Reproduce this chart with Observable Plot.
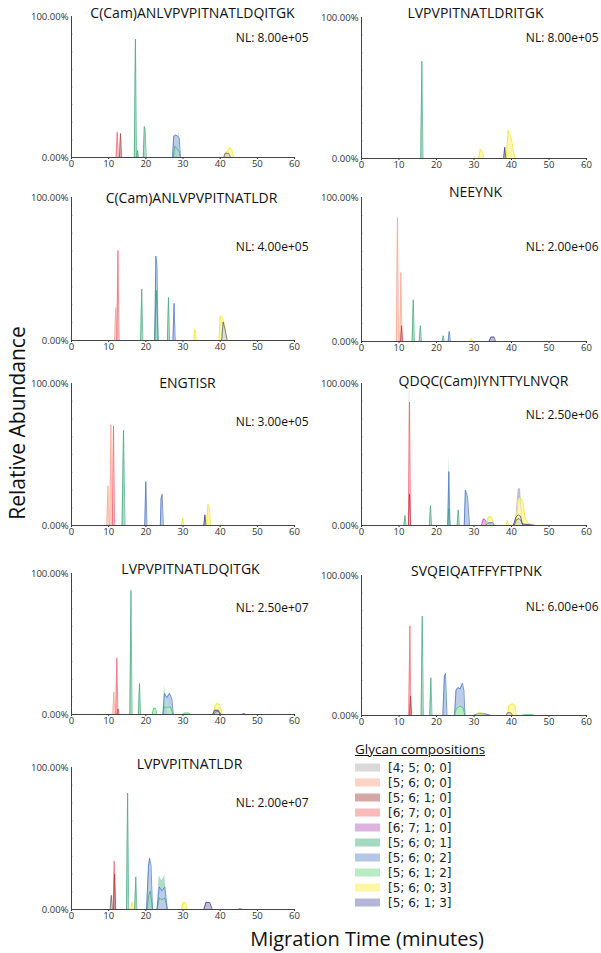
<!DOCTYPE html>
<html><head><meta charset="utf-8">
<script src="https://cdn.jsdelivr.net/npm/d3@7"></script>
<script src="https://cdn.jsdelivr.net/npm/@observablehq/plot@0.6"></script>
<style>
body{margin:0;background:#fff;}
#root{position:relative;width:601px;height:953px;overflow:hidden;font-family:"Open Sans",sans-serif;color:#111;}
.panel{position:absolute;}
.ylab{position:absolute;left:17px;top:423px;transform:translate(-50%,-50%) rotate(-90deg);font-size:21px;white-space:nowrap;}
.xlab{position:absolute;left:367px;top:938px;transform:translate(-50%,-50%);font-size:20px;white-space:nowrap;}
.legtitle{position:absolute;left:355px;top:749px;transform:translateY(-50%);font-size:13.5px;text-decoration:underline;white-space:nowrap;}
.legrow{position:absolute;left:355px;height:15px;display:flex;align-items:center;transform:translateY(-50%);white-space:nowrap;}
.sw{width:25px;height:8px;margin-right:8px;}
.lt{font-family:"DejaVu Sans",sans-serif;font-size:12px;color:#222;}
</style></head><body><div id="root"></div>
<script>
// ---------- data ----------
const glycans = ["[4; 5; 0; 0]","[5; 6; 0; 0]","[5; 6; 1; 0]","[6; 7; 0; 0]","[6; 7; 1; 0]",
                 "[5; 6; 0; 1]","[5; 6; 0; 2]","[5; 6; 1; 2]","[5; 6; 0; 3]","[5; 6; 1; 3]"];
const swatchColors = ["#d9d9d9","#fcd3c4","#d6a7a7","#fdbaba","#ddb4dd","#a5d9c1","#b5c7e7","#b8ecc3","#fdf6a3","#b5b5d7"];
const traceColors  = ["#4a4a4a","#f29a85","#b02c2c","#ef4f68","#c230b4","#2e9e6e","#2f5fb8","#25bf45","#f0e000","#1c1c78"];
const panelTitles = ["C(Cam)ANLVPVPITNATLDQITGK","LVPVPITNATLDRITGK","C(Cam)ANLVPVPITNATLDR","NEEYNK",
                     "ENGTISR","QDQC(Cam)IYNTTYLNVQR","LVPVPITNATLDQITGK","SVQEIQATFFYFTPNK","LVPVPITNATLDR"];
const nlLabels = ["NL: 8.00e+05","NL: 8.00e+05","NL: 4.00e+05","NL: 2.00e+06","NL: 3.00e+05",
                  "NL: 2.50e+06","NL: 2.50e+07","NL: 6.00e+06","NL: 2.00e+07"];
const xTicks = [0,10,20,30,40,50,60];
const yTicks = [0,100];
const yMinorTicks = [12.5,25,37.5,50,62.5,75,87.5];

// peaks: [glycan index, [time, abundance, time, abundance, ...]]
const peaks1 = [
  [3,[12.0,0, 12.3,18, 12.6,0]],
  [2,[12.9,0, 13.2,17, 13.5,0]],
  [5,[16.9,0, 17.2,84, 17.5,0]],
  [5,[17.6,0, 17.8,5, 18.0,0]],
  [5,[19.3,0, 19.6,22, 19.8,20, 20.1,0]],
  [6,[27.2,0, 27.5,15, 28.0,16, 28.6,15, 29.0,14, 29.3,0]],
  [5,[27.4,0, 27.8,8, 28.5,6, 29.0,4, 29.3,0]],
  [8,[41.2,0, 41.8,4, 42.5,7, 43.1,6, 43.6,0]],
  [0,[41.0,0, 41.3,3, 42.3,3, 42.8,0]]
];
const peaks2 = [
  [5,[15.8,0, 16.1,69, 16.4,0]],
  [8,[31.2,0, 31.7,6.5, 32.3,5, 32.7,0]],
  [9,[37.9,0, 38.2,8, 38.5,0]],
  [8,[38.6,0, 39.1,20, 39.5,17, 40.0,14, 40.5,5, 41.0,0]]
];
const peaks3 = [
  [1,[11.6,0, 11.9,23, 12.2,0]],
  [3,[12.2,0, 12.5,63, 12.8,0]],
  [5,[18.6,0, 18.9,36, 19.2,0]],
  [6,[22.4,0, 22.7,59, 23.0,52, 23.3,0]],
  [5,[22.4,0, 22.8,35, 23.3,0]],
  [5,[25.8,0, 26.1,30, 26.4,0]],
  [6,[27.3,0, 27.6,26, 27.9,0]],
  [8,[32.9,0, 33.2,8, 33.6,0]],
  [8,[39.7,0, 40.0,17, 40.6,16, 41.2,10, 41.8,0]],
  [0,[40.4,0, 40.8,13, 41.3,8, 41.9,0]]
];
const peaks4 = [
  [1,[9.3,0, 9.6,86, 9.9,0]],
  [1,[10.2,0, 10.5,48, 10.8,0]],
  [2,[10.4,0, 10.7,11, 11.0,0]],
  [5,[13.5,0, 13.8,29, 14.1,0]],
  [5,[15.4,0, 15.7,11, 16.0,0]],
  [5,[21.5,0, 21.8,4, 22.1,0]],
  [6,[23.1,0, 23.4,7, 23.7,0]],
  [8,[28.8,0, 29.3,2, 29.8,0]],
  [9,[34.0,0, 34.5,3, 35.3,3.2, 35.8,0]]
];
const peaks5 = [
  [1,[9.5,0, 9.8,28, 10.1,0]],
  [1,[10.3,0, 10.6,71, 10.9,0]],
  [3,[11.0,0, 11.3,70, 11.6,0]],
  [5,[13.6,0, 14.0,67, 14.4,0]],
  [6,[19.7,0, 20.0,31, 20.3,0]],
  [6,[23.9,0, 24.1,19, 24.4,22, 24.7,0]],
  [8,[29.5,0, 29.9,5, 30.3,0]],
  [9,[35.6,0, 35.9,7.5, 36.2,0]],
  [8,[36.3,0, 36.7,15, 37.1,13, 37.4,0]]
];
const peaks6 = [
  [5,[11.3,0, 11.6,7, 11.9,0]],
  [3,[12.5,0, 12.8,87, 13.1,0]],
  [2,[12.5,0, 12.8,22, 13.1,0]],
  [5,[18.1,0, 18.4,14, 18.7,0]],
  [6,[23.0,0, 23.3,38, 23.6,0]],
  [5,[23.0,0, 23.3,12, 23.6,0]],
  [5,[25.5,0, 25.8,11, 26.1,0]],
  [6,[27.4,0, 27.7,25, 28.3,20, 28.8,0]],
  [4,[32.0,0, 32.5,4.7, 33.0,4, 33.4,0]],
  [8,[33.3,0, 33.8,6, 34.7,6, 35.4,0]],
  [6,[33.0,0, 34.0,2, 35.0,2, 35.5,0]],
  [8,[38.6,0, 38.9,3.5, 39.2,0]],
  [8,[41.2,0, 41.8,18, 42.4,19.5, 43.0,17, 43.6,6, 44.2,2, 46.0,0]],
  [9,[40.5,0, 41.2,6, 41.8,7.5, 42.4,6.5, 42.9,1, 45.0,0.5, 46.5,0]],
  [0,[40.7,0, 41.3,4, 42.0,5, 42.6,3, 43.0,0]]
];
const peaks7 = [
  [1,[11.1,0, 11.4,16, 11.7,0]],
  [3,[11.9,0, 12.2,40, 12.5,0]],
  [2,[12.2,0, 12.5,4, 12.8,0]],
  [5,[15.7,0, 16.0,88, 16.3,0]],
  [5,[18.0,0, 18.3,22, 18.6,0]],
  [7,[21.7,0, 22.1,4.5, 22.6,4.5, 23.0,0]],
  [6,[24.6,0, 25.0,15, 25.6,12, 26.4,15, 27.0,11, 27.4,0]],
  [7,[24.6,0, 25.0,5.5, 26.0,5, 26.6,5.5, 27.3,0]],
  [7,[29.8,0, 30.5,1, 31.5,1, 32.0,0]],
  [8,[38.0,0, 38.6,6, 39.2,8, 39.9,7, 40.6,0]],
  [9,[38.0,0, 38.5,3, 39.5,3, 40.2,0]],
  [0,[38.3,0, 38.8,2, 39.6,2, 40.0,0]],
  [9,[45.8,0, 46.3,0.6, 47.0,0]]
];
const peaks8 = [
  [3,[12.6,0, 12.9,64, 13.2,0]],
  [2,[12.8,0, 13.1,14, 13.4,0]],
  [5,[15.9,0, 16.2,71, 16.5,0]],
  [5,[18.2,0, 18.5,27, 18.8,0]],
  [6,[21.7,0, 22.1,28, 22.4,30, 22.8,0]],
  [6,[24.8,0, 25.2,18, 25.7,20, 26.3,19, 26.9,23, 27.3,18, 27.6,0]],
  [7,[24.8,0, 25.3,5, 26.2,6.6, 27.0,6, 27.6,0]],
  [6,[29.8,0, 31.0,1.2, 33.0,1.2, 34.6,0]],
  [8,[30.5,0, 31.2,2, 32.2,2, 32.8,0]],
  [8,[38.9,0, 39.3,7, 40.2,8.4, 40.9,7.5, 41.3,0]],
  [0,[38.5,0, 39.0,2, 39.8,2, 40.3,0]],
  [7,[42.7,0, 43.5,0.6, 45.5,0.6, 46.2,0]]
];
const peaks9 = [
  [0,[10.4,0, 10.7,10, 11.0,0]],
  [3,[11.2,0, 11.5,34, 11.8,0]],
  [2,[11.3,0, 11.6,25, 11.9,0]],
  [5,[14.8,0, 15.1,82, 15.4,0]],
  [8,[15.9,0, 16.3,5, 16.7,0]],
  [5,[17.0,0, 17.3,23, 17.6,0]],
  [6,[20.2,0, 20.7,30, 21.0,36, 21.4,31, 21.8,0]],
  [5,[20.3,0, 20.8,10, 21.2,13, 21.8,0]],
  [6,[23.0,0, 23.6,16, 24.3,13, 25.1,16, 25.8,0]],
  [5,[23.0,0, 23.6,8, 24.3,7, 25.1,8, 25.8,0]],
  [8,[29.6,0, 30.0,5, 30.7,5, 31.1,0]],
  [9,[35.6,0, 36.2,5, 37.2,5, 37.9,0]],
  [9,[44.8,0, 45.3,0.4, 46.2,0]]
];
const panelPeaks = [peaks1,peaks2,peaks3,peaks4,peaks5,peaks6,peaks7,peaks8,peaks9];

// ---------- layout ----------
const layout = [
  {col:0, y100:16,  y0:157, tdx:9.5, tdy:-8,  ndy:17},
  {col:1, y100:17,  y0:158, tdx:1.5, tdy:-9,  ndy:16},
  {col:0, y100:197, y0:340, tdx:8.5, tdy:-4,  ndy:45},
  {col:1, y100:197, y0:341, tdx:1.5, tdy:-10, ndy:45},
  {col:0, y100:383, y0:525, tdx:4.5, tdy:-5,  ndy:34},
  {col:1, y100:383, y0:525, tdx:9.5, tdy:-7,  ndy:27},
  {col:0, y100:573, y0:714, tdx:7.5, tdy:-9,  ndy:30},
  {col:1, y100:575, y0:715, tdx:2.5, tdy:-9,  ndy:27},
  {col:0, y100:767, y0:909, tdx:6.5, tdy:-8,  ndy:31}
];
const root = document.getElementById("root");
const MT = 24, MB = 20;

panelPeaks.forEach((pk, i) => {
  const L = layout[i];
  const rows = [];
  pk.forEach(([g, pts], k) => {
    for (let j = 0; j < pts.length; j += 2) rows.push({id: k, g, t: pts[j], v: pts[j + 1]});
  });
  const left = L.col === 0 ? 0 : 290;
  const width = L.col === 0 ? 310 : 311;
  const marginRight = L.col === 0 ? 16 : 15;
  const chart = Plot.plot({
    width, height: MT + (L.y0 - L.y100) + MB,
    marginLeft: 71, marginRight, marginTop: MT, marginBottom: MB,
    style: {background: "transparent", overflow: "visible", fontFamily: "'Open Sans', sans-serif", fontSize: "9.5px", color: "#333"},
    x: {domain: [0, 60], ticks: xTicks, tickSize: 2, tickPadding: 1, label: null},
    y: {domain: [0, 100], ticks: yTicks, tickSize: 0, tickPadding: 3, tickFormat: d => d.toFixed(2) + "%", label: null},
    color: {type: "identity"},
    marks: [
      Plot.areaY(rows, {x: "t", y: "v", z: "id", fill: d => swatchColors[d.g], fillOpacity: 0.9}),
      Plot.lineY(rows, {x: "t", y: "v", z: "id", stroke: d => traceColors[d.g], strokeWidth: 0.7, strokeOpacity: 0.9}),
      Plot.ruleY(yMinorTicks, {x1: 0, x2: 0.35, stroke: "#777", strokeWidth: 1}),
      Plot.ruleX([0], {y1: 0, y2: 100, stroke: "#444", strokeWidth: 1}),
      Plot.ruleY([0], {stroke: "#444", strokeWidth: 1}),
      Plot.text([panelTitles[i]], {text: d => d, frameAnchor: "top", dx: L.tdx, dy: L.tdy, fontSize: 14, fill: "#111"}),
      Plot.text([nlLabels[i]], {text: d => d, frameAnchor: "top-right", textAnchor: "end", dx: L.col === 0 ? 14 : 12, dy: L.ndy, fontSize: 12, fill: "#111"})
    ]
  });
  const div = document.createElement("div");
  div.className = "panel";
  div.style.left = left + "px";
  div.style.top = (L.y100 - MT) + "px";
  div.appendChild(chart);
  root.appendChild(div);
});

// global axis labels
const yl = document.createElement("div"); yl.className = "ylab"; yl.textContent = "Relative Abundance"; root.appendChild(yl);
const xl = document.createElement("div"); xl.className = "xlab"; xl.textContent = "Migration Time (minutes)"; root.appendChild(xl);

// legend
const lt = document.createElement("div"); lt.className = "legtitle"; lt.textContent = "Glycan compositions"; root.appendChild(lt);
glycans.forEach((g, i) => {
  const r = document.createElement("div");
  r.className = "legrow";
  r.style.top = (767 + 15 * i) + "px";
  r.innerHTML = `<div class="sw" style="background:${swatchColors[i]}"></div><span class="lt">${g}</span>`;
  root.appendChild(r);
});
</script></body></html>
